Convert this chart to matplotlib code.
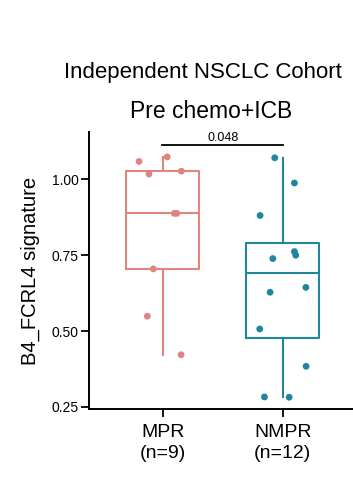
import matplotlib
matplotlib.use("Agg")
import matplotlib.pyplot as plt
import numpy as np

plt.rcParams['font.family'] = ['Liberation Sans', 'DejaVu Sans']

categories = ["MPR", "NMPR"]
tick_labels = ["MPR\n(n=9)", "NMPR\n(n=12)"]
colors = ["#DE8580", "#1F879C"]

mpr_values = [1.059, 1.074, 1.0175, 1.027, 0.888, 0.888, 0.705, 0.549, 0.422]
mpr_jitter = [-0.197, 0.038, -0.114, 0.155, 0.097, 0.117, -0.078, -0.128, 0.153]
nmpr_values = [1.071, 0.988, 0.881, 0.762, 0.750, 0.739, 0.628, 0.644, 0.507, 0.384, 0.283, 0.282]
nmpr_jitter = [-0.067, 0.097, -0.189, 0.097, 0.108, -0.083, -0.106, 0.192, -0.192, 0.194, -0.153, 0.053]

p_value = "0.048"
yticks = [0.25, 0.50, 0.75, 1.00]

fig = plt.figure(figsize=(3.53, 4.79), dpi=100)
ax = fig.add_axes([0.252, 0.146, 0.758, 0.579])

groups = [mpr_values, nmpr_values]
jitters = [mpr_jitter, nmpr_jitter]
for i, (vals, jit, c) in enumerate(zip(groups, jitters, colors)):
    ax.boxplot([vals], positions=[i], widths=0.61, whis=1.5, showfliers=False,
               patch_artist=False,
               boxprops=dict(color=c, linewidth=1.5),
               medianprops=dict(color=c, linewidth=1.5),
               whiskerprops=dict(color=c, linewidth=1.5),
               capprops=dict(linewidth=0))
    ax.scatter(np.array(jit) + i, vals, s=24, color=c, edgecolors='none', zorder=3)

ax.set_xlim(-0.614, 1.614)
ax.set_ylim(0.243, 1.157)
ax.set_xticks([0, 1])
ax.set_xticklabels(tick_labels, fontsize=14, linespacing=1.3)
ax.set_yticks(yticks)
ax.set_yticklabels([f"{t:.2f}" for t in yticks], fontsize=10)
ax.set_ylabel("B4_FCRL4 signature", fontsize=14.5)
ax.yaxis.set_label_coords(-0.183, 0.497)

for s in ['top', 'right']:
    ax.spines[s].set_visible(False)
for s in ['left', 'bottom']:
    ax.spines[s].set_linewidth(1.4)
ax.tick_params(axis='both', width=1.3, length=5.5, color='black')
ax.tick_params(axis='y', pad=2)
ax.tick_params(axis='x', pad=5.5)

# significance bracket
ax.plot([-0.008, 1.005], [1.113, 1.113], color='black', linewidth=1.3, clip_on=False)
ax.text(0.5, 1.118, p_value, ha='center', va='bottom', fontsize=9)

fig.text(0.575, 0.849, "Independent NSCLC Cohort", ha='center', va='center', fontsize=16)
fig.text(0.597, 0.768, "Pre chemo+ICB", ha='center', va='center', fontsize=16.5)

fig.savefig("out.png", dpi=100)
